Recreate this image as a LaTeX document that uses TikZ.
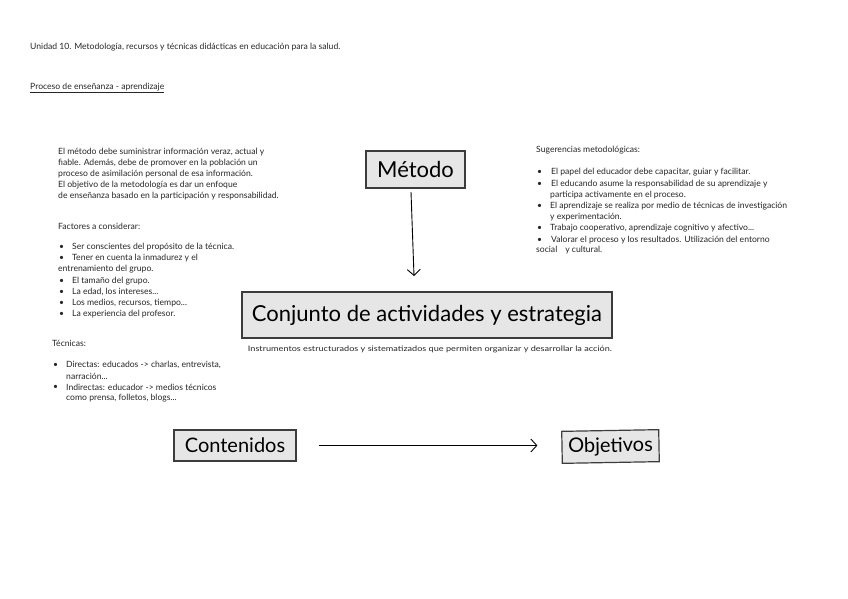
\documentclass[tikz,border=0pt]{standalone}
\usepackage{fontspec}
\setmainfont{Lato}
\usetikzlibrary{arrows.meta}
\definecolor{boxfill}{HTML}{E6E6E6}
\definecolor{boxline}{HTML}{3C3C3C}
\tikzset{
  small/.style={font=\fontsize{8.6}{11}\selectfont, inner sep=0pt, anchor=west, text=black!85},
  bigbox/.style={draw=boxline, line width=1.5pt, fill=boxfill, inner sep=0pt},
  conn/.style={line width=0.9pt, -{Straight Barb[length=6pt,width=13pt]}}
}
\begin{document}
\begin{tikzpicture}[x=1pt,y=-1pt]
\useasboundingbox (0,0) rectangle (848,599);
% header
\node[small] (title) at (30,47) {Unidad 10. Metodología, recursos y técnicas didácticas en educación para la salud.};
\node[small] (proc) at (30,88) {\underline{Proceso de enseñanza - aprendizaje}};
% left paragraph
\node[small] (p1) at (58,152) {El método debe suministrar información veraz, actual y};
\node[small] (p2) at (58,163) {fiable. Además, debe de promover en la población un};
\node[small] (p3) at (58,174) {proceso de asimilación personal de esa información.};
\node[small] (p4) at (58,185) {El objetivo de la metodología es dar un enfoque};
\node[small] (p5) at (58,196) {de enseñanza basado en la participación y responsabilidad.};
% factores
\node[small] (f0) at (58,226) {Factores a considerar:};
\foreach \y in {247,258,281,292,303,314} \node[small] at (59,\y) {•};
\node[small] (f1) at (72,247) {Ser conscientes del propósito de la técnica.};
\node[small] (f2) at (72,258) {Tener en cuenta la inmadurez y el};
\node[small] (f2b) at (58,269) {entrenamiento del grupo.};
\node[small] (f3) at (72,281) {El tamaño del grupo.};
\node[small] (f4) at (72,292) {La edad, los intereses...};
\node[small] (f5) at (72,303) {Los medios, recursos, tiempo...};
\node[small] (f6) at (72,314) {La experiencia del profesor.};
% tecnicas
\node[small] (t0) at (52,343) {Técnicas:};
\foreach \y in {365,387} \node[small] at (53,\y) {•};
\node[small] (t1) at (66,365) {Directas: educados -> charlas, entrevista,};
\node[small] (t1b) at (66,376) {narración...};
\node[small] (t2) at (66,387) {Indirectas: educador -> medios técnicos};
\node[small] (t2b) at (66,398) {como prensa, folletos, blogs...};
% right list
\node[small] (s0) at (536,150) {Sugerencias metodológicas:};
\foreach \y in {172,184,206,228,240} \node[small] at (537,\y) {•};
\node[small] (s1) at (551,172) {El papel del educador debe capacitar, guiar y facilitar.};
\node[small] (s2) at (551,184) {El educando asume la responsabilidad de su aprendizaje y};
\node[small] (s2b) at (550,195) {participa activamente en el proceso.};
\node[small] (s3) at (550,206) {El aprendizaje se realiza por medio de técnicas de investigación};
\node[small] (s3b) at (550,217) {y experimentación.};
\node[small] (s4) at (550,228) {Trabajo cooperativo, aprendizaje cognitivo y afectivo...};
\node[small] (s5) at (551,240) {Valorar el proceso y los resultados. Utilización del entorno};
\node[small] (s5b) at (536,250) {social\hspace{8pt}y cultural.};
% boxes
\node[bigbox, minimum width=99pt, minimum height=37pt, font=\fontsize{22}{24}\selectfont] (metodo) at (415.5,169.5) {Método};
\node[bigbox, minimum width=370pt, minimum height=46pt, font=\fontsize{22}{24}\selectfont] (conj) at (427,315) {Conjunto de actividades y estrategia};
\node[small, anchor=center, font=\fontsize{7.6}{8}\selectfont] (cap) at (430,349) {\scalebox{1.2}[1]{Instrumentos estructurados y sistematizados que permiten organizar y desarrollar la acción.}};
\node[bigbox, line width=1.2pt, minimum width=122pt, minimum height=31pt, font=\fontsize{20}{22}\selectfont] (cont) at (235,445.5) {Contenidos};
\node[bigbox, line width=1.2pt, minimum width=97pt, minimum height=32pt, rotate=1, font=\fontsize{20}{22}\selectfont] (obj) at (610.5,446.5) {Objetivos};
% connectors
\coordinate (a1) at (411,192);
\coordinate (a2) at (414,276);
\draw[conn] (a1) -- (a2);
\draw[conn, shorten <=22pt, shorten >=24pt] (cont.east) -- (cont.east -| obj.west);
\end{tikzpicture}
\end{document}
